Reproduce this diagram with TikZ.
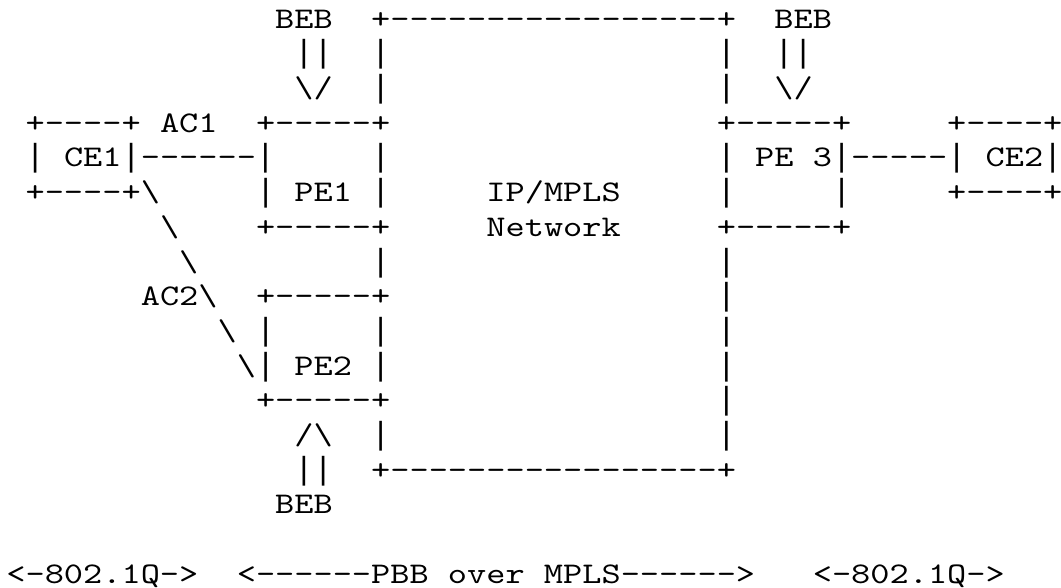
\documentclass[tikz,border=0pt]{standalone}
\usepackage{fontspec}
\setmonofont{lmmono10-regular.otf}[FakeStretch=1.2190]
\newfontfamily\barfont{Liberation Mono}
\newcommand\bs{\textbackslash}
\newcommand\vb{{\barfont\fontsize{32}{32}\selectfont|}}
\tikzset{
  asc/.style={anchor=base west, inner sep=0pt, outer sep=0pt, text=black,
    font=\ttfamily\fontsize{30}{30}\selectfont}
}
% row r, column c -> position of the cell's base-left corner
\newcommand\ascii[4]{\node[asc] (#1) at ({6.4+19.2*#3},{588-28.2-34.7*#2}) {#4};}
\begin{document}
\begin{tikzpicture}[x=1pt,y=1pt]
\useasboundingbox[fill=white] (0,0) rectangle (1061,588);
% row 0
\ascii{bebA}{0}{14}{BEB}
\ascii{netTop}{0}{19}{+-----------------+}
\ascii{bebC}{0}{40}{BEB}
% row 1
\ascii{arrA1}{1}{15}{\vb\vb}
\ascii{netL1}{1}{19}{\vb}
\ascii{netR1}{1}{37}{\vb}
\ascii{arrC1}{1}{40}{\vb\vb}
% row 2
\ascii{arrA2}{2}{15}{\bs/}
\ascii{netL2}{2}{19}{\vb}
\ascii{netR2}{2}{37}{\vb}
\ascii{arrC2}{2}{40}{\bs/}
% row 3
\ascii{ceOneTop}{3}{1}{+----+}
\ascii{acOne}{3}{8}{AC1}
\ascii{peOneTop}{3}{13}{+-----+}
\ascii{peThreeTop}{3}{37}{+-----+}
\ascii{ceTwoTop}{3}{49}{+----+}
% row 4
\ascii{ceOne}{4}{1}{\vb{} CE1\vb------\vb}
\ascii{peOneR4}{4}{19}{\vb}
\ascii{peThree}{4}{37}{\vb{} PE 3\vb-----\vb{} CE2\vb}
% row 5
\ascii{ceOneBot}{5}{1}{+----+\bs}
\ascii{peOne}{5}{13}{\vb{} PE1 \vb}
\ascii{ipmpls}{5}{25}{IP/MPLS}
\ascii{peThreeL5}{5}{37}{\vb}
\ascii{peThreeR5}{5}{43}{\vb}
\ascii{ceTwoBot}{5}{49}{+----+}
% row 6
\ascii{acTwoA}{6}{8}{\bs}
\ascii{peOneBot}{6}{13}{+-----+}
\ascii{network}{6}{25}{Network}
\ascii{peThreeBot}{6}{37}{+-----+}
% row 7
\ascii{acTwoB}{7}{9}{\bs}
\ascii{netL7}{7}{19}{\vb}
\ascii{netR7}{7}{37}{\vb}
% row 8
\ascii{acTwo}{8}{7}{AC2\bs}
\ascii{peTwoTop}{8}{13}{+-----+}
\ascii{netR8}{8}{37}{\vb}
% row 9
\ascii{acTwoC}{9}{11}{\bs}
\ascii{peTwoL9}{9}{13}{\vb}
\ascii{peTwoR9}{9}{19}{\vb}
\ascii{netR9}{9}{37}{\vb}
% row 10
\ascii{peTwo}{10}{12}{\bs\vb{} PE2 \vb}
\ascii{netR10}{10}{37}{\vb}
% row 11
\ascii{peTwoBot}{11}{13}{+-----+}
\ascii{netR11}{11}{37}{\vb}
% row 12
\ascii{arrB12}{12}{15}{/\bs}
\ascii{netL12}{12}{19}{\vb}
\ascii{netR12}{12}{37}{\vb}
% row 13
\ascii{arrB13}{13}{15}{\vb\vb}
\ascii{netBot}{13}{19}{+-----------------+}
% row 14
\ascii{bebB}{14}{14}{BEB}
% row 16
\ascii{dotqL}{16}{0}{<-802.1Q->}
\ascii{pbb}{16}{12}{<------PBB over MPLS------>}
\ascii{dotqR}{16}{42}{<-802.1Q->}
\end{tikzpicture}
\end{document}
